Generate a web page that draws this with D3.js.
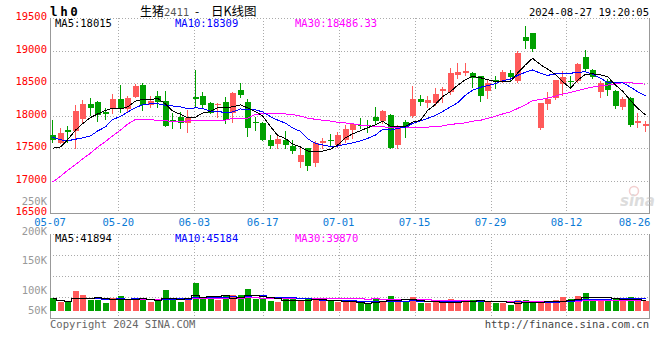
<!DOCTYPE html>
<html><head><meta charset="utf-8">
<script src="https://cdn.jsdelivr.net/npm/d3@7"></script>
<style>body{margin:0;background:#fff}svg{display:block}</style>
</head><body><svg id="c" width="660" height="360"></svg>
<script>
const dates = ["05-07","05-08","05-09","05-10","05-13","05-14","05-15","05-16","05-17","05-20","05-21","05-22","05-23","05-24","05-27","05-28","05-29","05-30","05-31","06-03","06-04","06-05","06-06","06-07","06-11","06-12","06-13","06-14","06-17","06-18","06-19","06-20","06-21","06-24","06-25","06-26","06-27","06-28","07-01","07-02","07-03","07-04","07-05","07-08","07-09","07-10","07-11","07-12","07-15","07-16","07-17","07-18","07-19","07-22","07-23","07-24","07-25","07-26","07-29","07-30","07-31","08-01","08-02","08-05","08-06","08-07","08-08","08-09","08-12","08-13","08-14","08-15","08-16","08-19","08-20","08-21","08-22","08-23","08-26","08-27"];
const opens = [17705,17590,17780,17770,17950,18180,18215,18065,18095,18255,
 18105,18295,18475,18165,18305,18235,17935,17985,17885,18295,
 18305,18200,18165,18215,18040,18395,18215,17905,17885,17630,
 17565,17630,17535,17295,17500,17280,17575,17625,17550,17630,
 17780,17860,17860,17985,17925,18010,17550,17910,17995,18260,
 18200,18200,18385,18380,18640,18655,18665,18610,18385,18550,
 18535,18665,18535,19215,19270,17810,18190,18270,18500,18540,
 18540,18900,18705,18370,18540,18385,18130,18270,17900,17850];
const highs = [17930,17815,17845,18165,18245,18275,18235,18115,18335,18475,
 18310,18490,18505,18310,18380,18380,18040,18065,18090,18705,
 18370,18210,18200,18295,18370,18510,18255,17985,17910,17705,
 17705,17770,17630,17500,17500,17605,17665,17720,17755,17860,
 17895,17960,17935,18140,18090,18025,17860,17935,18455,18320,
 18305,18425,18450,18740,18810,18815,18680,18610,18550,18610,
 18705,18705,19000,19380,19280,18200,18370,18550,18695,18610,
 18810,19010,18715,18535,18560,18395,18295,18285,18040,17925];
const lows = [17600,17575,17600,17505,17890,18010,17920,17945,18050,18060,
 18060,18295,18095,18130,18135,17845,17810,17810,17755,18140,
 18115,18040,17985,17895,17910,18295,17690,17780,17625,17500,
 17500,17500,17425,17210,17165,17230,17500,17550,17515,17600,
 17655,17810,17755,17885,17885,17500,17500,17680,17985,18165,
 18130,18165,18215,18335,18575,18630,18450,18230,18270,18425,
 18525,18550,18525,19050,19000,17790,18100,18255,18320,18425,
 18525,18705,18575,18295,18320,18115,18100,17845,17825,17765];
const closes = [17630,17740,17755,18080,18180,18115,18010,18030,18255,18115,
 18275,18460,18165,18230,18210,17850,17925,17895,17960,18265,
 18165,18050,18175,17945,18355,18320,17810,17885,17630,17535,
 17645,17560,17465,17395,17230,17580,17610,17620,17705,17795,
 17875,17855,17850,17925,18075,17500,17845,17830,18260,18215,
 18245,18335,18410,18665,18680,18690,18590,18305,18510,18525,
 18680,18600,18965,19155,19025,18190,18260,18550,18600,18525,
 18795,18720,18590,18510,18395,18150,18260,17860,17925,17880];
const volumes = [45500,36000,36000,65800,54600,40700,42000,33200,45500,51900,
 40700,43500,45500,36000,40700,68500,40700,36000,40700,88800,
 44500,43500,40700,53800,54600,54600,71300,42700,42700,38000,
 36000,42700,42700,40700,42700,46300,40700,38000,35200,35200,
 35200,31600,31600,46300,38800,51900,38800,38000,48300,31600,
 31500,36000,31500,44300,36000,36000,40700,42000,36000,31500,
 33200,26800,40700,42000,31500,31500,38000,42000,49000,43500,
 51000,60000,43000,44000,44400,43500,38000,50000,40700,37270];
// moving-average values before a full window exists
const ma5Head = [17500,17520,17630,17780];
const ma10Head = [17670,17630,17615,17640,17660,17690,17765,17830,17940];
const ma30Head = [16980,17070,17160,17250,17335,17425,17515,17605,17690,17780,17870,17945,17945,17945,17925,17925,17910,17910,17920,17925,17925,17925,17935,17935,17960,17960,17960,18025,18030];
const priceTicks = [16500,17000,17500,18000,18500,19000,19500];
const volGridTicks = [50000,100000,150000];
const volLabelTicks = [250000,200000,150000,100000,50000];
const xTickDates = ["05-07","05-20","06-03","06-17","07-01","07-15","07-29","08-12","08-26"];
const header = {code:"lh0", name:"生猪", contract:"2411", dash:"-", suffix:"日K线图", time:"2024-08-27 19:20:05"};
const priceMA = [["MA5:18015","#000"],["MA10:18309","#0000ff"],["MA30:18486.33","#ff00ff"]];
const volMA = [["MA5:41894","#000"],["MA10:45184","#0000ff"],["MA30:39870","#ff00ff"]];

const svg = d3.select("#c");
const L = 50, R = 649.5, mTop = 18.3, mBot = 213.3, vTop = 234.3, vBot = 318.3, vBase = 310.7;
const MONO = "'DejaVu Sans Mono', monospace";
const CJK = "'Noto Sans CJK SC', sans-serif";
const RED = "#ff5a5a", GREEN = "#00a000", GRID = "#aaa";
const idx = d3.range(dates.length);

const xBand = d3.scaleBand().domain(dates).range([50, 649]).paddingInner(0.2).paddingOuter(0);
const xGrid = d3.scalePoint().domain(dates).range([50, 650]);
const yP = d3.scaleLinear().domain([16500, 19500]).range([mBot, mTop]);
const yVolGrid = d3.scaleLinear().domain([0, 200000]).range([vBot, vTop]);
const yVol = d3.scaleLinear().domain([11000, 89000]).range([vBase, 282.6]);
const yVolLabel = d3.scaleLinear().domain([250000, 100000]).range([205, 294]);
const bx = i => Math.round(xBand(dates[i]));
const bw = Math.round(xBand.bandwidth());
const cx = i => bx(i) + 2.5;

function maPrice(arr, n, head){ return arr.map((_, i) => i < n - 1 ? head[i] : d3.mean(arr.slice(i - n + 1, i + 1))); }
function maPartial(arr, n){ return arr.map((_, i) => d3.mean(arr.slice(Math.max(0, i - n + 1), i + 1))); }

// ---- header
svg.append("text").attr("x", 50).attr("y", 15.5).attr("font-family", MONO).attr("font-weight", "bold")
  .attr("font-size", 12.5).attr("letter-spacing", 2.6).text(header.code);
svg.append("text").attr("x", 140).attr("y", 15.5).attr("font-family", CJK).attr("font-size", 12).text(header.name);
svg.append("text").attr("x", 164).attr("y", 15.5).attr("font-family", "'DejaVu Sans', sans-serif").attr("font-size", 10)
  .attr("fill", "#555").text(header.contract);
svg.append("text").attr("x", 197).attr("y", 15.5).attr("text-anchor", "middle").attr("font-family", CJK).attr("font-size", 12).text(header.dash);
svg.append("text").attr("x", 211).attr("y", 15.5).attr("font-family", CJK).attr("font-size", 12.5).text(header.suffix);
svg.append("text").attr("x", 649).attr("y", 15.5).attr("text-anchor", "end").attr("font-family", MONO).attr("font-size", 10.5).text(header.time);

// ---- grids & frames
function gridPanel(top, bot, hTicks, yScale){
  const g = svg.append("g").attr("shape-rendering", "crispEdges");
  g.selectAll("line.h").data(hTicks).join("line").attr("x1", L).attr("x2", R)
    .attr("y1", d => Math.round(yScale(d)) + 0.5).attr("y2", d => Math.round(yScale(d)) + 0.5)
    .attr("stroke", GRID).attr("stroke-dasharray", "1,2");
  const vt = xTickDates.filter(d => xGrid(d) > L + 2 && xGrid(d) < R - 10);
  g.selectAll("line.v").data(vt).join("line")
    .attr("x1", d => Math.round(xGrid(d)) + 0.5).attr("x2", d => Math.round(xGrid(d)) + 0.5)
    .attr("y1", top).attr("y2", bot).attr("stroke", GRID).attr("stroke-dasharray", "1,2");
  g.append("line").attr("x1", L).attr("x2", R).attr("y1", Math.round(top) + 0.5).attr("y2", Math.round(top) + 0.5)
    .attr("stroke", GRID).attr("stroke-dasharray", "1,2");
  g.append("line").attr("x1", L + 0.5).attr("x2", L + 0.5).attr("y1", top).attr("y2", bot).attr("stroke", "#999");
  g.append("line").attr("x1", R).attr("x2", R).attr("y1", top).attr("y2", bot + 0.5).attr("stroke", "#999");
  g.append("line").attr("x1", L).attr("x2", R).attr("y1", Math.round(bot) + 0.5).attr("y2", Math.round(bot) + 0.5).attr("stroke", "#999");
}
gridPanel(mTop, mBot, priceTicks.filter(v => v > 16500 && v < 19500), yP);
gridPanel(vTop, vBot, volGridTicks, yVolGrid);

// watermark
const wm = svg.append("g").attr("opacity", 0.5);
wm.append("circle").attr("cx", 634).attr("cy", 191).attr("r", 4.5).attr("fill", "none").attr("stroke", "#e8a0a0").attr("stroke-width", 1.5);
wm.append("text").attr("x", 620).attr("y", 206).attr("font-family", "'DejaVu Sans', sans-serif").attr("font-weight", "bold")
  .attr("font-style", "italic").attr("font-size", 15).attr("fill", "#bbb").text("sina");

// ---- price labels
svg.selectAll("text.pl").data(priceTicks).join("text").attr("x", 47).attr("y", d => yP(d) + 2)
  .attr("text-anchor", "end").attr("font-family", MONO).attr("font-size", 10.5).attr("fill", "#f00").text(d => d);
// volume labels
svg.selectAll("text.vl").data(volLabelTicks).join("text").attr("x", 47)
  .attr("y", d => Math.min(yVolLabel(d), vBot - 4)).attr("text-anchor", "end").attr("font-family", MONO)
  .attr("font-size", 10.5).attr("fill", "#999").text(d => (d / 1000) + "K");

// x labels
svg.selectAll("text.xl").data(xTickDates).join("text")
  .attr("x", d => Math.min(xGrid(d), 649 - 14.5)).attr("y", 225.5).attr("text-anchor", "middle")
  .attr("font-family", MONO).attr("font-size", 10.5).attr("fill", "#0a7ad6").text(d => d);

// ---- candles
const cg = svg.append("g").attr("shape-rendering", "crispEdges");
const col = i => closes[i] >= opens[i] ? RED : GREEN;
cg.selectAll("line.w").data(idx).join("line")
  .attr("x1", i => cx(i)).attr("x2", i => cx(i))
  .attr("y1", i => Math.round(yP(highs[i]))).attr("y2", i => Math.round(yP(lows[i])) + 1)
  .attr("stroke", col);
cg.selectAll("rect.b").data(idx).join("rect")
  .attr("x", i => bx(i)).attr("width", bw)
  .attr("y", i => Math.round(yP(Math.max(opens[i], closes[i]))))
  .attr("height", i => Math.max(1, Math.round(Math.abs(yP(opens[i]) - yP(closes[i])))))
  .attr("fill", col);

// ---- price MA lines
const ma5 = maPrice(closes, 5, ma5Head), ma10 = maPrice(closes, 10, ma10Head), ma30 = maPrice(closes, 30, ma30Head);
const lineP = arr => d3.line().x(i => cx(i)).y(i => yP(arr[i]))(idx);
[[ma30, "#ff00ff"], [ma10, "#0000ff"], [ma5, "#000"]].forEach(([a, c]) =>
  svg.append("path").attr("d", lineP(a)).attr("fill", "none").attr("stroke", c).attr("stroke-width", 1).attr("shape-rendering", "crispEdges"));

// ---- volume bars
const vg = svg.append("g").attr("shape-rendering", "crispEdges");
vg.selectAll("rect").data(idx).join("rect")
  .attr("x", i => bx(i)).attr("width", bw)
  .attr("y", i => Math.round(yVol(volumes[i]))).attr("height", i => Math.round(vBase) - Math.round(yVol(volumes[i])))
  .attr("fill", col);
const v5 = maPartial(volumes, 5), v10 = maPartial(volumes, 10), v30 = maPartial(volumes, 30);
const lineV = arr => d3.line().curve(d3.curveStep).x(i => cx(i)).y(i => Math.round(yVol(arr[i])) + 0.5)(idx);
[[v30, "#ff00ff"], [v10, "#0000ff"], [v5, "#000"]].forEach(([a, c]) =>
  svg.append("path").attr("d", lineV(a)).attr("fill", "none").attr("stroke", c).attr("stroke-width", 1).attr("shape-rendering", "crispEdges"));

// ---- MA legends
const legX = [55, 175, 295];
svg.selectAll("text.pm").data(priceMA).join("text").attr("x", (d, i) => legX[i]).attr("y", 27)
  .attr("font-family", MONO).attr("font-size", 10.5).attr("fill", d => d[1]).text(d => d[0]);
svg.selectAll("text.vm").data(volMA).join("text").attr("x", (d, i) => legX[i]).attr("y", 242)
  .attr("font-family", MONO).attr("font-size", 10.5).attr("fill", d => d[1]).text(d => d[0]);

// ---- footer
svg.append("text").attr("x", 50).attr("y", 327.5).attr("font-family", MONO).attr("font-size", 10.5).attr("fill", "#666").text("Copyright 2024 SINA.COM");
svg.append("text").attr("x", 649).attr("y", 327.5).attr("text-anchor", "end").attr("font-family", MONO).attr("font-size", 10.5).attr("fill", "#444").text("http://finance.sina.com.cn");
</script></body></html>
